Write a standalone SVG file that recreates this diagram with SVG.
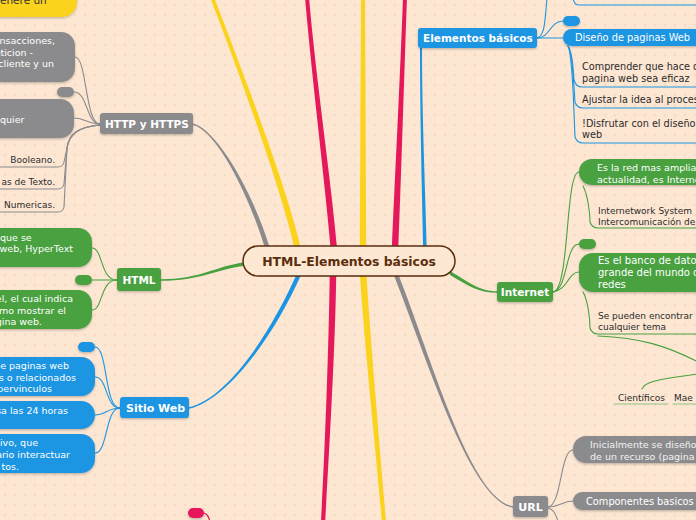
<svg xmlns="http://www.w3.org/2000/svg" width="696" height="520" viewBox="0 0 696 520">
<defs>
<pattern id="dots" width="10" height="10" patternUnits="userSpaceOnUse">
<path d="M3.5,5H6.5M5,3.5V6.5" stroke="#efd2b9" stroke-width="0.7"/>
</pattern>
<filter id="sh" x="-10%" y="-20%" width="120%" height="150%">
<feDropShadow dx="0" dy="1.2" stdDeviation="0.8" flood-color="#000" flood-opacity="0.25"/>
</filter>
</defs>
<style>
text{font-family:"DejaVu Sans",Verdana,sans-serif}
.b{font-weight:bold;fill:#fff;font-size:10.5px}
.w{fill:#fff;font-size:9.5px}
.d{fill:#2b2b2b;font-size:9px}
.d10{fill:#2b2b2b;font-size:9.7px}
.bl{fill:#1b95e3}
.gr{fill:#48a13f}
.gy{fill:#8b8b8e}
.ye{fill:#fbd21c}
.pk{fill:#e5185c}
.n{filter:url(#sh)}
.c{fill:none;stroke-linecap:round}
.sb{stroke:#1b95e3}
.sg{stroke:#48a13f}
.sy{stroke:#8b8b8e}
.sw{stroke:#fbd21c}
.sp{stroke:#e5185c}
.th{stroke-width:1.1}
</style>
<rect width="696" height="520" fill="#fde7d3"/>
<rect width="696" height="520" fill="url(#dots)"/>

<g id="connectors">
<path class="ye" d="M210,-3 C238,70 281.8,190 294.8,250 L301.2,250 C288.2,190 242,70 214,-3 Z"/>
<path class="pk" d="M305,-3 C312,80 324.8,180 330.8,250 L337.2,250 C331.2,180 316,80 309,-3 Z"/>
<path class="ye" d="M361,-3 L359.8,250 L366.2,250 L365,-3 Z"/>
<path class="pk" d="M403,-3 C400,80 394.8,180 391.8,250 L398.2,250 C401.2,180 404,80 407,-3 Z"/>
<path class="bl" d="M420,46 C420,120 422.25,200 423.25,250 L426.75,250 C425.75,200 422,120 422,46 Z"/>
<path class="gy" d="M191.9,124.7 C214.9,128.7 247.8,190.7 265.8,250.7 L270.2,249.3 C252.2,189.3 215.1,127.3 192.1,123.3 Z"/>
<path class="bl" d="M189.2,408.7 C225.2,400.7 271.9,340.9 301.9,272.9 L298.1,271.1 C268.1,339.2 224.8,399.3 188.8,407.3 Z"/>
<path class="pk" d="M329.75,272 C328.75,350 324.9,450 320.9,523 L325.1,523 C329.1,450 335.25,350 336.25,272 Z"/>
<path class="ye" d="M359.75,272 C364.75,350 375.9,450 381.9,523 L386.1,523 C380.1,450 371.25,350 366.25,272 Z"/>
<path class="gy" d="M392.9,272.8 C427.9,360.8 469.9,500.7 512.9,507.7 L513.1,506.3 C470.1,499.3 432.1,359.2 397.1,271.2 Z"/>
<path class="gr" d="M161,280.75 C200,280.75 215,269.75 245,265.75 L245,262.25 C215,266.25 200,279.25 161,279.25 Z"/>
<path class="gr" d="M450,275 C470,287 480,292.75 497,292.75 L497,291.25 C480,291.25 470,283 450,271 Z"/>

<path class="c sy th" d="M100,124 C85,124 87,57 75,57"/>
<path class="c sy th" d="M100,124 C86,124 88,92 74,92"/>
<path class="c sy th" d="M100,124 C88,124 85,118 74,118"/>
<path class="c sy th" d="M100,125 C78,127 69,134 67,148 L64,162 Q63,167 58,167 H-2"/>
<path class="c sy th" d="M100,125 C78,127 69,134 67,148 L64,184 Q63,189 58,189 H-2"/>
<path class="c sy th" d="M100,125 C78,127 69,134 67,148 L64,207 Q63,212 58,212 H-2"/>

<path class="c sg th" d="M117,280 C100,280 103,248 92,248"/>
<path class="c sg th" d="M117,280 H92"/>
<path class="c sg th" d="M117,280 C100,280 103,310 92,310"/>

<path class="c sb th" d="M120,408 C104,408 108,347 95,347"/>
<path class="c sb th" d="M120,408 C105,408 108,377 95,377"/>
<path class="c sb th" d="M120,408 C108,408 105,415 95,415"/>
<path class="c sb th" d="M120,408 C105,408 108,453 95,453"/>

<path class="c sb th" d="M537,38 C545,36 545,20 547,-2"/>
<path class="c sb th" d="M537,38 C550,38 550,21 563,21"/>
<path class="c sb th" d="M537,38 H563"/>
<path class="c sb th" d="M573,-2 Q574,5 579,5 H698"/>
<path class="c sb th" d="M568,46 C573,52 573,70 574,80 Q576,87 582,87 H698"/>
<path class="c sb th" d="M568,46 C573,55 574,90 575,102 Q577,108 583,108 H698"/>
<path class="c sb th" d="M568,46 C573,55 574,120 575,137 Q577,143 583,143 H698"/>

<path class="c sg th" d="M553,292 C570,290 565,172 579,172"/>
<path class="c sg th" d="M553,292 C568,290 565,244 579,244"/>
<path class="c sg th" d="M553,292 C568,290 568,272 579,272"/>
<path class="c sg th" d="M583,186 C588,195 590,215 590,222 Q592,228 598,228 H698"/>
<path class="c sg th" d="M583,292 C588,300 590,320 590,328 Q592,334 598,334 H698"/>
<path class="c sg th" d="M598,336 C640,338 665,345 698,362"/>
<path class="c sg th" d="M698,374 C670,378 650,380 644,386 L642,389"/>
<path class="c th" stroke="#8fc483" stroke-width="2" d="M614,404 H668 M673,404 H698"/>

<path class="c sy th" d="M548,507 C562,505 560,450 573,450"/>
<path class="c sy th" d="M548,507 C560,507 562,501 573,501"/>
<path class="c sy th" d="M548,508 C556,510 556,518 559,523"/>

<path class="c sp th" d="M204,513 C208,514 209,518 210,522"/>
</g>

<g id="center">
<rect x="243" y="246" width="212" height="30" rx="15" fill="#fde8d4" stroke="#5a2d0c" stroke-width="1.5"/>
<text x="349" y="266" text-anchor="middle" font-size="12.4" font-weight="bold" fill="#5a2d0c">HTML-Elementos básicos</text>
</g>

<g id="top-yellow">
<rect class="ye n" x="-20" y="-30" width="97" height="47" rx="15"/>
<text x="0" y="3.5" font-size="10.5" fill="#333">enere un</text>
</g>

<g id="http">
<rect class="gy n" x="100" y="113" width="93" height="21" rx="3"/>
<text class="b" x="105" y="128">HTTP y HTTPS</text>
</g>
<g id="http-1">
<rect class="gy n" x="-20" y="32" width="95" height="50" rx="14"/>
<text class="w" text-anchor="end" x="55" y="44">nsacciones,</text>
<text class="w" text-anchor="end" x="33" y="56">eticion -</text>
<text class="w" text-anchor="end" x="54" y="67">cliente y un</text>
</g>
<g id="http-2"><rect class="gy n" x="57" y="87" width="17" height="10" rx="5"/></g>
<g id="http-3">
<rect class="gy n" x="-20" y="99" width="94" height="39" rx="14"/>
<text class="w" x="0" y="123">quier</text>
</g>
<g id="http-4"><text class="d" text-anchor="end" x="55" y="163">Booleano.</text></g>
<g id="http-5"><text class="d" text-anchor="end" x="55" y="185">as de Texto.</text></g>
<g id="http-6"><text class="d" text-anchor="end" x="55" y="208">Numericas.</text></g>

<g id="html">
<rect class="gr n" x="117" y="268" width="44" height="23" rx="3"/>
<text class="b" x="139" y="284" text-anchor="middle">HTML</text>
</g>
<g id="html-1">
<rect class="gr n" x="-20" y="228" width="112" height="39" rx="14"/>
<text class="w" x="0" y="241">que se</text>
<text class="w" text-anchor="end" x="73" y="252">web, HyperText</text>
</g>
<g id="html-2"><rect class="gr n" x="75" y="275" width="17" height="10" rx="5"/></g>
<g id="html-3">
<rect class="gr n" x="-20" y="290" width="112" height="39" rx="14"/>
<text class="w" text-anchor="end" x="73" y="302">el, el cual indica</text>
<text class="w" text-anchor="end" x="66" y="314">mo mostrar el</text>
<text class="w" text-anchor="end" x="42" y="325">gina web.</text>
</g>

<g id="sitio">
<rect class="bl n" x="120" y="397" width="69" height="21" rx="3"/>
<text class="b" x="126" y="412" style="font-size:11px">Sitio Web</text>
</g>
<g id="sitio-1"><rect class="bl n" x="78" y="342" width="17" height="10" rx="5"/></g>
<g id="sitio-2">
<rect class="bl n" x="-20" y="357" width="115" height="39" rx="14"/>
<text class="w" text-anchor="end" x="69" y="369">he paginas web</text>
<text class="w" text-anchor="end" x="76" y="381">s o relacionados</text>
<text class="w" text-anchor="end" x="52" y="392">pervinculos</text>
</g>
<g id="sitio-3">
<rect class="bl n" x="-20" y="401" width="115" height="28" rx="14"/>
<text class="w" text-anchor="end" x="68" y="414">sa las 24 horas</text>
</g>
<g id="sitio-4">
<rect class="bl n" x="-20" y="434" width="115" height="39" rx="14"/>
<text class="w" text-anchor="end" x="38" y="446">ivo, que</text>
<text class="w" text-anchor="end" x="70" y="458">ario interactuar</text>
<text class="w" text-anchor="end" x="19" y="470">tos.</text>
</g>

<g id="pink-pill"><rect class="pk n" x="188" y="508" width="16" height="10" rx="5"/></g>

<g id="elementos">
<rect class="bl n" x="418" y="28" width="119" height="20" rx="3"/>
<text class="b" x="423" y="42">Elementos básicos</text>
</g>
<g id="elem-1"><rect class="bl n" x="563" y="16" width="17" height="10" rx="5"/></g>
<g id="diseno">
<rect class="bl n" x="563" y="29" width="150" height="17" rx="8.5"/>
<text x="575" y="41" font-size="9.8" fill="#fff">Diseño de paginas Web</text>
</g>
<g id="diseno-1">
<text class="d10" x="582" y="70">Comprender que hace que</text>
<text class="d10" x="582" y="82">pagina web sea eficaz</text>
</g>
<g id="diseno-2"><text class="d10" x="582" y="103">Ajustar la idea al proceso</text></g>
<g id="diseno-3">
<text class="d10" x="582" y="127">!Disfrutar con el diseño</text>
<text class="d10" x="582" y="138">web</text>
</g>

<g id="internet">
<rect class="gr n" x="497" y="282" width="56" height="20" rx="3"/>
<text class="b" x="525" y="296" text-anchor="middle">Internet</text>
</g>
<g id="inet-1">
<rect class="gr n" x="579" y="159" width="140" height="26" rx="13"/>
<text class="w" x="597" y="171">Es la red mas amplia</text>
<text class="w" x="597" y="183">actualidad, es Internet</text>
</g>
<g id="inet-2">
<text class="d" x="598" y="214">Internetwork System</text>
<text class="d" x="598" y="225">Intercomunicación  de</text>
</g>
<g id="inet-3"><rect class="gr n" x="579" y="239" width="17" height="10" rx="5"/></g>
<g id="inet-4">
<rect class="gr n" x="579" y="253" width="140" height="39" rx="14"/>
<text class="w" x="598" y="264" style="font-size:10px">Es el banco de datos</text>
<text class="w" x="598" y="276" style="font-size:10px">grande del mundo de</text>
<text class="w" x="598" y="288" style="font-size:10px">redes</text>
</g>
<g id="inet-5">
<text class="d" x="598" y="319">Se pueden encontrar</text>
<text class="d" x="598" y="330">cualquier tema</text>
</g>
<g id="inet-6"><text class="d" x="618" y="401">Científicos</text></g>
<g id="inet-7"><text class="d" x="674" y="401">Mae</text></g>

<g id="url">
<rect class="gy n" x="513" y="496" width="35" height="21" rx="3"/>
<text class="b" x="530.5" y="511" text-anchor="middle" style="font-size:11px">URL</text>
</g>
<g id="url-1">
<rect class="gy n" x="573" y="436" width="140" height="27" rx="13"/>
<text class="w" x="590" y="448" style="fill:#f2f2f2">Inicialmente se diseño como</text>
<text class="w" x="590" y="460" style="fill:#f2f2f2">de un recurso (pagina Web</text>
</g>
<g id="url-2">
<rect class="gy n" x="573" y="492" width="140" height="18" rx="9"/>
<text class="w" x="586" y="505" style="font-size:9.8px">Componentes basicos</text>
</g>
</svg>
